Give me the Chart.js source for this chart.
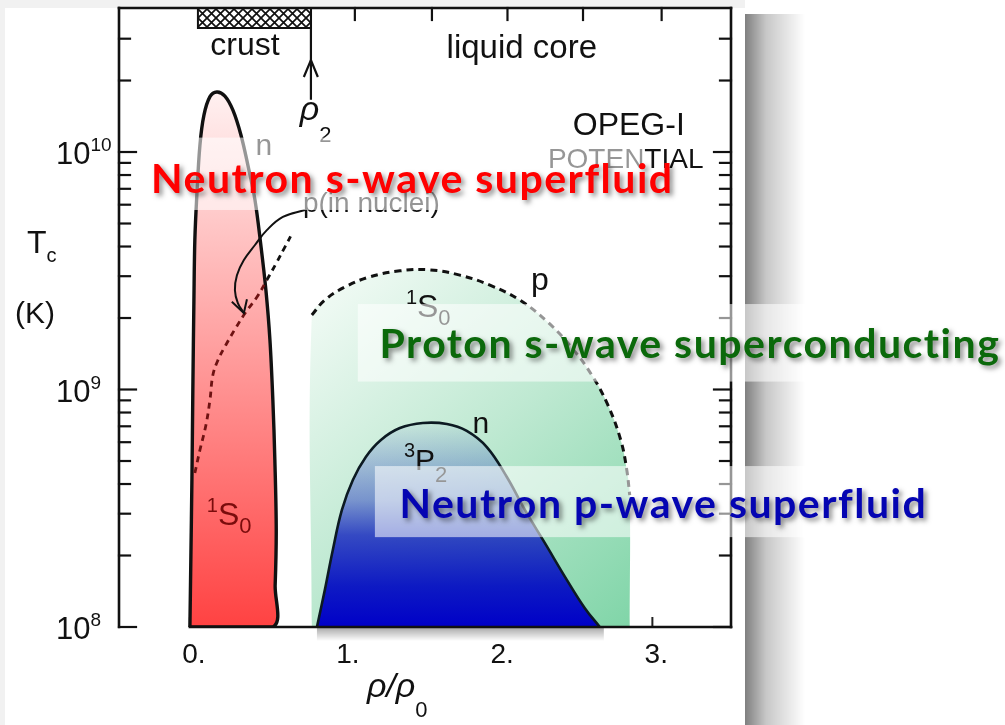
<!DOCTYPE html>
<html>
<head>
<meta charset="utf-8">
<title>Superfluid gaps in neutron star matter</title>
<script src="https://cdn.jsdelivr.net/npm/chart.js@4.4.1/dist/chart.umd.min.js"></script>
<style>
  html, body { margin: 0; padding: 0; background: #fff; }
  canvas { display: block; }
</style>
</head>
<body>
<canvas id="gaps" width="1005" height="725"></canvas>
<script>
// axis limits: x = rho/rho0, y = Tc in K (log)
let xMin = -0.46, xMax = 3.51;
let yMin = 1e8, yMax = 4.04e10;

let xTickValues = [0, 1, 2, 3];
let xTickLabels = ['0.', '1.', '2.', '3.'];
let xSmallTicks = [0, 0.5, 1, 1.5, 2, 2.5, 3];
let topTicks = [1.07, 1.57, 2.06, 2.55, 3.06];
let yDecades = [1e8, 1e9, 1e10];
let yExponents = ['8', '9', '10'];
let yMinorSteps = [2, 3, 4, 5, 6, 7, 8, 9];

// neutron 1S0 gap (red), up the left side then down the right
let n1s0X = [0.00, 0.006, 0.013, 0.019, 0.026, 0.032, 0.045, 0.065, 0.091, 0.130, 0.175, 0.227, 0.279, 0.331, 0.376, 0.422, 0.460, 0.493, 0.519, 0.538, 0.551, 0.560, 0.553, 0.538, 0.00];
let n1s0Y = [1e8, 1.92e8, 4.16e8, 9.95e8, 2.38e9, 4.26e9, 6.59e9, 1.07e10, 1.43e10, 1.71e10, 1.79e10, 1.72e10, 1.50e10, 1.18e10, 8.81e9, 6.28e9, 4.06e9, 2.62e9, 1.62e9, 9.03e8, 5.05e8, 2.56e8, 1.50e8, 1e8, 1e8];

// proton gap inside nuclei (dashed)
let pNucX = [0.032, 0.065, 0.104, 0.130, 0.149, 0.182, 0.233, 0.298, 0.363, 0.435, 0.499, 0.564, 0.616, 0.668];
let pNucY = [4.45e8, 5.56e8, 7.09e8, 9.04e8, 1.15e9, 1.33e9, 1.54e9, 1.82e9, 2.12e9, 2.45e9, 2.89e9, 3.44e9, 3.98e9, 4.60e9];

// curved arrow from the "p(in nuclei)" label
let arrowX = [0.746, 0.603, 0.499, 0.422, 0.350, 0.305, 0.292, 0.311, 0.350];
let arrowY = [5.70e9, 5.33e9, 4.69e9, 4.06e9, 3.51e9, 3.03e9, 2.62e9, 2.31e9, 2.10e9];
let arrowHeadX = [0.272, 0.350, 0.370];
let arrowHeadY = [2.34e9, 2.10e9, 2.40e9];

// rho_2 marker (crust / core boundary)
let rho2X = [0.785, 0.785];
let rho2Y = [4.04e10, 1.66e10];
let rho2HeadX = [0.739, 0.785, 0.830];
let rho2HeadY = [2.07e10, 2.44e10, 2.07e10];

// crust strip along the top
let crustX = [0.052, 0.785, 0.785, 0.052, 0.052];
let crustY = [4.04e10, 4.04e10, 3.33e10, 3.33e10, 4.04e10];

// proton 1S0 gap (green, dashed)
let p1s0X = [0.791, 0.875, 1.005, 1.167, 1.362, 1.556, 1.751, 1.946, 2.140, 2.322, 2.477, 2.607, 2.711, 2.795, 2.834, 2.853];
let p1s0Y = [2.06e9, 2.38e9, 2.70e9, 2.98e9, 3.16e9, 3.19e9, 3.03e9, 2.75e9, 2.38e9, 1.92e9, 1.50e9, 1.15e9, 8.61e8, 6.12e8, 4.58e8, 3.59e8];

// neutron 3P2 gap (blue)
let n3p2X = [0.824, 0.875, 0.927, 0.986, 1.057, 1.141, 1.239, 1.362, 1.511, 1.667, 1.796, 1.926, 2.056, 2.173, 2.302, 2.445, 2.562, 2.659];
let n3p2Y = [1e8, 1.43e8, 2.11e8, 3.11e8, 4.16e8, 5.20e8, 6.13e8, 6.88e8, 7.23e8, 7.16e8, 6.69e8, 5.72e8, 4.28e8, 3.11e8, 2.26e8, 1.58e8, 1.20e8, 1e8];

// annotations of the scanned figure (data coordinates)
let scanLabels = [
  {parts: [['crust', 32]], x: 0.357, y: 2.56e10, align: 'center'},
  {parts: [['liquid core', 33]], x: 2.153, y: 2.49e10, align: 'center'},
  {parts: [['OPEG-I', 32]], x: 2.847, y: 1.18e10, align: 'center'},
  {parts: [['POTENTIAL', 28]], x: 2.827, y: 8.57e9, align: 'center'},
  {parts: [['n', 30]], x: 0.480, y: 9.70e9, align: 'center'},
  {parts: [['p(in nuclei)', 28]], x: 0.733, y: 5.58e9, align: 'left'},
  {parts: [['1', 20, -13], ['S', 32], ['0', 22, 8]], x: 0.110, y: 2.68e8, align: 'left', color: '#7a0c0c'},
  {parts: [['1', 20, -13], ['S', 32], ['0', 22, 8]], x: 1.401, y: 2.02e9, align: 'left'},
  {parts: [['p', 32]], x: 2.270, y: 2.62e9, align: 'center'},
  {parts: [['n', 30]], x: 1.887, y: 6.56e8, align: 'center'},
  {parts: [['3', 20, -13], ['P', 30], ['2', 22, 12]], x: 1.388, y: 4.58e8, align: 'left'},
  {parts: [['ρ', 34, 0, true], ['2', 22, 22]], x: 0.713, y: 1.37e10, align: 'left'}
];

let bigLabels = [
  {text: 'Neutron s-wave superfluid', x: 1.443, y: 6.71e9, color: '#ff0000'},
  {text: 'Proton s-wave superconducting', x: 3.243, y: 1.36e9, color: '#0b690b'},
  {text: 'Neutron p-wave superfluid', x: 3.071, y: 2.88e8, color: '#0505b2'}
];

// translucent strips behind the big labels (x2 null = to the page edge)
let bands = [
  {x1: -0.272, x2: 2.951, y1: 1.15e10, y2: 5.70e9},
  {x1: 1.089, x2: null, y1: 2.29e9, y2: 1.08e9},
  {x1: 1.200, x2: null, y1: 4.76e8, y2: 2.39e8}
];

function pts(xs, ys) {
  return xs.map((x, i) => ({x: x, y: ys[i]}));
}

let canvas = document.getElementById('gaps');
let ctx0 = canvas.getContext('2d');

function hatch() {
  let c = document.createElement('canvas');
  c.width = 9; c.height = 9;
  let g = c.getContext('2d');
  g.fillStyle = '#fff';
  g.fillRect(0, 0, 9, 9);
  g.strokeStyle = '#111';
  g.lineWidth = 1.7;
  g.beginPath();
  g.moveTo(-1, -1); g.lineTo(10, 10);
  g.moveTo(10, -1); g.lineTo(-1, 10);
  g.stroke();
  return ctx0.createPattern(c, 'repeat');
}

function gradient(x0, y0, x1, y1, stops) {
  return function(context) {
    let chart = context.chart;
    if (!chart.chartArea) return null;
    let sx = chart.scales.x, sy = chart.scales.y;
    let g = chart.ctx.createLinearGradient(
      x0 == null ? 0 : sx.getPixelForValue(x0), sy.getPixelForValue(y0),
      x1 == null ? 0 : sx.getPixelForValue(x1), sy.getPixelForValue(y1));
    stops.forEach(s => g.addColorStop(s[0], s[1]));
    return g;
  };
}

function font(p) {
  return (p[3] ? 'italic ' : '') + p[1] + 'px "Liberation Sans", Arial, sans-serif';
}

function drawParts(ctx, parts, x, y, align, color) {
  let widths = parts.map(p => { ctx.font = font(p); return ctx.measureText(p[0]).width; });
  let total = widths.reduce((a, b) => a + b, 0);
  let cx = align === 'center' ? x - total / 2 : (align === 'right' ? x - total : x);
  ctx.fillStyle = color || '#111';
  ctx.textAlign = 'left';
  ctx.textBaseline = 'alphabetic';
  parts.forEach((p, i) => {
    ctx.font = font(p);
    ctx.fillText(p[0], cx, y + (p[2] || 0));
    cx += widths[i];
  });
}

function line(ctx, x1, y1, x2, y2) {
  ctx.beginPath();
  ctx.moveTo(x1, y1);
  ctx.lineTo(x2, y2);
  ctx.stroke();
}

let figure = {
  id: 'figure',
  beforeDraw(chart) {
    let ctx = chart.ctx;
    ctx.save();
    ctx.fillStyle = '#f1f1f1';
    ctx.fillRect(0, 0, 745, 8);
    ctx.fillRect(0, 0, 5, 725);
    let g = ctx.createLinearGradient(745, 0, 805, 0);
    g.addColorStop(0, 'rgba(0,0,0,0.5)');
    g.addColorStop(0.35, 'rgba(0,0,0,0.22)');
    g.addColorStop(1, 'rgba(0,0,0,0)');
    ctx.fillStyle = g;
    ctx.fillRect(745, 14, 60, 711);
    ctx.restore();
  },
  beforeDatasetsDraw(chart) {
    let ctx = chart.ctx, a = chart.chartArea, sx = chart.scales.x;
    ctx.save();
    ctx.strokeStyle = '#222';
    ctx.lineWidth = 2;
    xSmallTicks.forEach(v => line(ctx, sx.getPixelForValue(v), a.bottom, sx.getPixelForValue(v), a.bottom - 10));
    ctx.restore();
  },
  afterDatasetsDraw(chart) {
    let ctx = chart.ctx, a = chart.chartArea;
    let sx = chart.scales.x, sy = chart.scales.y;
    ctx.save();

    // shadow under the blue area
    let sh = ctx.createLinearGradient(0, a.bottom, 0, a.bottom + 14);
    sh.addColorStop(0, 'rgba(0,0,0,0.35)');
    sh.addColorStop(1, 'rgba(0,0,0,0)');
    ctx.fillStyle = sh;
    ctx.fillRect(sx.getPixelForValue(n3p2X[0]), a.bottom, sx.getPixelForValue(n3p2X[n3p2X.length - 1]) - sx.getPixelForValue(n3p2X[0]) + 4, 14);

    // frame
    ctx.strokeStyle = '#111';
    ctx.lineWidth = 2.6;
    ctx.lineCap = 'square';
    line(ctx, a.left, a.top, a.left, a.bottom);
    line(ctx, a.right, a.top, a.right, a.bottom);
    line(ctx, a.left, a.top, a.right, a.top);
    line(ctx, sx.getPixelForValue(0), a.bottom, a.right, a.bottom);

    // log ticks on both sides, pointing in
    let minor = yDecades.flatMap(d => yMinorSteps.map(s => s * d)).filter(v => v < yMax * 0.97);
    ctx.lineWidth = 2.2;
    yDecades.forEach(v => {
      let py = sy.getPixelForValue(v);
      line(ctx, a.left, py, a.left + 17, py);
      line(ctx, a.right, py, a.right - 17, py);
    });
    minor.forEach(v => {
      let py = sy.getPixelForValue(v);
      line(ctx, a.left, py, a.left + 11, py);
      line(ctx, a.right, py, a.right - 11, py);
    });
    topTicks.forEach(v => line(ctx, sx.getPixelForValue(v), a.top, sx.getPixelForValue(v), a.top + 12));

    // tick labels
    yDecades.forEach((v, i) => {
      drawParts(ctx, [['10', 31], [yExponents[i], 19, -13]], a.left - 63, sy.getPixelForValue(v) + 12, 'left');
    });
    xTickValues.forEach((v, i) => {
      ctx.font = font(['0', 28]);
      let w = ctx.measureText('0').width;
      ctx.fillStyle = '#111';
      ctx.textAlign = 'left';
      ctx.fillText(xTickLabels[i], sx.getPixelForValue(v) - w / 2, a.bottom + 36);
    });

    // axis titles
    drawParts(ctx, [['T', 32], ['c', 20, 9]], a.left - 92, sy.getPixelForValue(3.76e9), 'left');
    drawParts(ctx, [['(K)', 30]], a.left - 104, sy.getPixelForValue(1.91e9), 'left');
    drawParts(ctx, [['ρ/ρ', 34, 0, true], ['0', 22, 20, false]], sx.getPixelForValue(1.148), a.bottom + 70, 'left');

    scanLabels.forEach(l => drawParts(ctx, l.parts, sx.getPixelForValue(l.x), sy.getPixelForValue(l.y), l.align, l.color));

    // translucent strips
    ctx.fillStyle = 'rgba(255,255,255,0.56)';
    bands.forEach(b => {
      let x1 = sx.getPixelForValue(b.x1);
      let x2 = b.x2 == null ? chart.width : sx.getPixelForValue(b.x2);
      let y1 = sy.getPixelForValue(b.y1), y2 = sy.getPixelForValue(b.y2);
      ctx.fillRect(x1, y1, x2 - x1, y2 - y1);
    });

    // big coloured labels
    ctx.font = 'bold 41px Lato, "Open Sans", sans-serif';
    ctx.letterSpacing = '1.5px';
    ctx.textAlign = 'center';
    ctx.textBaseline = 'alphabetic';
    ctx.shadowColor = 'rgba(0,0,0,0.45)';
    ctx.shadowBlur = 5;
    ctx.shadowOffsetX = 3;
    ctx.shadowOffsetY = 3;
    bigLabels.forEach(l => {
      ctx.fillStyle = l.color;
      ctx.fillText(l.text, sx.getPixelForValue(l.x), sy.getPixelForValue(l.y));
    });
    ctx.restore();
  }
};

let base = {showLine: true, pointRadius: 0, pointHoverRadius: 0, fill: false};

new Chart(canvas, {
  type: 'scatter',
  data: {
    datasets: [
      Object.assign({}, base, {
        label: 'crust', data: pts(crustX, crustY), order: 1,
        borderColor: '#111', borderWidth: 2, backgroundColor: hatch(), fill: 'shape', tension: 0
      }),
      Object.assign({}, base, {
        label: 'rho2', data: pts(rho2X, rho2Y), order: 2,
        borderColor: '#111', borderWidth: 2.2, tension: 0
      }),
      Object.assign({}, base, {
        label: 'rho2 head', data: pts(rho2HeadX, rho2HeadY), order: 2,
        borderColor: '#111', borderWidth: 2.2, tension: 0
      }),
      Object.assign({}, base, {
        label: 'arrow', data: pts(arrowX, arrowY), order: 3,
        borderColor: '#111', borderWidth: 2, tension: 0.4
      }),
      Object.assign({}, base, {
        label: 'arrow head', data: pts(arrowHeadX, arrowHeadY), order: 3,
        borderColor: '#111', borderWidth: 2, tension: 0
      }),
      Object.assign({}, base, {
        label: 'p (in nuclei)', data: pts(pNucX, pNucY), order: 4,
        borderWidth: 2.8, borderDash: [6, 5], tension: 0.4,
        segment: {borderColor: c => c.p1.parsed.x > 0.52 ? '#111' : '#6e1212'}
      }),
      Object.assign({}, base, {
        label: 'n 1S0', data: pts(n1s0X, n1s0Y), order: 5,
        borderColor: '#111', borderWidth: 3.4, tension: 0.35, fill: 'shape',
        backgroundColor: gradient(null, 1.79e10, null, 1e8, [[0, '#fff1f1'], [0.45, '#ffa4a4'], [1, '#ff4242']])
      }),
      Object.assign({}, base, {
        label: 'n 3P2', data: pts(n3p2X, n3p2Y), order: 6,
        borderColor: '#0c1a22', borderWidth: 2.6, tension: 0.4, fill: 'shape',
        backgroundColor: gradient(null, 7.23e8, null, 1e8, [[0, 'rgba(10,25,190,0.03)'], [0.38, 'rgba(10,25,190,0.42)'], [0.55, 'rgba(10,25,190,0.77)'], [0.8, 'rgba(5,15,195,0.95)'], [1, 'rgba(0,0,200,1)']])
      }),
      Object.assign({}, base, {
        label: 'p 1S0', data: pts(p1s0X, p1s0Y), order: 7,
        borderColor: '#111', borderWidth: 3, borderDash: [7, 5], tension: 0.4
      }),
      Object.assign({}, base, {
        label: 'p 1S0 area',
        data: pts([p1s0X[0]].concat(p1s0X, [p1s0X[p1s0X.length - 1]]), [yMin].concat(p1s0Y, [yMin])),
        order: 8, borderWidth: 0, borderColor: 'rgba(0,0,0,0)', tension: 0.4, fill: 'shape',
        backgroundColor: gradient(0.791, 3.19e9, 2.853, 1e8, [[0, '#f6fcf8'], [0.5, '#bfe9d2'], [1, '#80d5a8']])
      })
    ]
  },
  options: {
    responsive: false,
    animation: false,
    events: [],
    layout: {padding: {left: 119, top: 8, right: 274, bottom: 98}},
    plugins: {legend: {display: false}, tooltip: {enabled: false}},
    scales: {
      x: {type: 'linear', min: xMin, max: xMax, display: false},
      y: {type: 'logarithmic', min: yMin, max: yMax, display: false}
    }
  },
  plugins: [figure]
});
</script>
</body>
</html>
